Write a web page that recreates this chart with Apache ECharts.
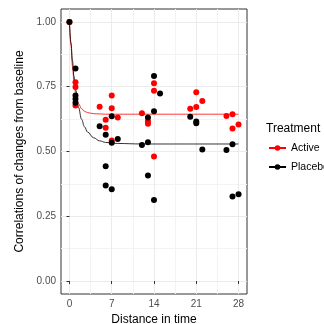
<!DOCTYPE html>
<html>
<head>
<meta charset="utf-8">
<script src="https://cdn.jsdelivr.net/npm/echarts@6/dist/echarts.min.js"></script>
<style>
  html, body { margin: 0; padding: 0; background: #ffffff; }
  #chart { width: 324px; height: 324px; }
</style>
</head>
<body>
<div id="chart"></div>
<script>
// Observed correlations by distance in time, per treatment arm
const activeDist = [0, 1, 1, 1, 5, 6, 6, 7, 7, 7, 8, 12, 13, 13, 14, 14, 14, 20, 21, 21, 22, 26, 27, 27, 28];
const activeCorr = [1.00, 0.767, 0.749, 0.678, 0.673, 0.623, 0.592, 0.716, 0.667, 0.542, 0.631, 0.648, 0.617, 0.607, 0.763, 0.734, 0.481, 0.665, 0.729, 0.672, 0.695, 0.637, 0.644, 0.589, 0.604];

const placeboDist = [0, 1, 1, 1, 1, 5, 6, 6, 6, 7, 7, 7, 8, 12, 13, 13, 13, 14, 14, 14, 15, 20, 21, 21, 22, 26, 27, 27, 28];
const placeboCorr = [1.00, 0.820, 0.716, 0.703, 0.688, 0.597, 0.565, 0.443, 0.369, 0.636, 0.534, 0.354, 0.548, 0.525, 0.631, 0.536, 0.407, 0.791, 0.655, 0.313, 0.724, 0.634, 0.616, 0.609, 0.508, 0.506, 0.528, 0.326, 0.335];

// Fitted decay curves, sampled along distance
const fitDist = [0, 0.25, 0.5, 0.75, 1, 1.5, 2, 2.5, 3, 4, 5, 6, 8, 12, 28];
const activeFit = [1.00, 0.91, 0.83, 0.77, 0.73, 0.685, 0.665, 0.655, 0.65, 0.646, 0.645, 0.644, 0.644, 0.644, 0.644];
const placeboFit = [1.00, 0.92, 0.85, 0.79, 0.74, 0.67, 0.625, 0.595, 0.575, 0.553, 0.541, 0.535, 0.531, 0.529, 0.529];

// Axis ticks
const xMajor = [0, 7, 14, 21, 28];
const xMinor = [3.5, 10.5, 17.5, 24.5];
const yMajor = [0, 0.25, 0.5, 0.75, 1];
const yMinor = [0.125, 0.375, 0.625, 0.875];

const FONT = '"Liberation Sans", Arial, sans-serif';
const pairs = (xs, ys) => xs.map((x, i) => [x, ys[i]]);

const X_MIN = -1.4, X_MAX = 29.4, Y_MIN = -0.05, Y_MAX = 1.05;

const chart = echarts.init(document.getElementById('chart'), null, { renderer: 'canvas' });

const minorAxis = (customValues, extra) => Object.assign({
  type: 'value',
  axisLine: { show: false },
  axisLabel: { show: false },
  axisTick: { show: false, customValues: customValues },
  splitLine: { show: true, lineStyle: { color: '#F3F3F3', width: 1 } }
}, extra);

chart.setOption({
  animation: false,
  backgroundColor: '#ffffff',
  grid: {
    left: 61, top: 9, width: 186, height: 285,
    containLabel: false,
    outerBoundsMode: 'none',
    show: true, borderColor: '#333333', borderWidth: 1, backgroundColor: 'transparent'
  },
  title: {
    text: 'Treatment',
    left: 266, top: 123,
    padding: 0,
    textStyle: { fontFamily: FONT, fontSize: 12, fontWeight: 'normal', color: '#000000' }
  },
  legend: {
    orient: 'vertical',
    left: 268, top: 142,
    padding: 0,
    itemWidth: 17, itemHeight: 7, itemGap: 7,
    data: ['Active', 'Placebo'],
    textStyle: { fontFamily: FONT, fontSize: 10.5, color: '#000000', lineHeight: 12 },
    selectedMode: false
  },
  xAxis: [
    {
      type: 'value', min: X_MIN, max: X_MAX,
      name: 'Distance in time', nameLocation: 'middle', nameGap: 17,
      nameTextStyle: { fontFamily: FONT, fontSize: 12, color: '#000000' },
      axisLine: { show: false },
      axisTick: { show: true, length: 3, inside: false, customValues: xMajor, lineStyle: { color: '#333333', width: 1 } },
      axisLabel: { show: true, customValues: xMajor, margin: 5, fontFamily: FONT, fontSize: 10, color: '#4D4D4D' },
      splitLine: { show: true, lineStyle: { color: '#EBEBEB', width: 1 } },
      z: 1
    },
    minorAxis(xMinor, { min: X_MIN, max: X_MAX, position: 'bottom', z: 0 })
  ],
  yAxis: [
    {
      type: 'value', min: Y_MIN, max: Y_MAX,
      name: 'Correlations of changes from baseline', nameLocation: 'middle', nameGap: 35,
      nameTextStyle: { fontFamily: FONT, fontSize: 12, color: '#000000' },
      axisLine: { show: false },
      axisTick: { show: true, length: 3, inside: false, customValues: yMajor, lineStyle: { color: '#333333', width: 1 } },
      axisLabel: {
        show: true, customValues: yMajor, margin: 5, fontFamily: FONT, fontSize: 10, color: '#4D4D4D',
        formatter: v => v.toFixed(2)
      },
      splitLine: { show: true, lineStyle: { color: '#EBEBEB', width: 1 } },
      z: 1
    },
    minorAxis(yMinor, { min: Y_MIN, max: Y_MAX, position: 'left', z: 0 })
  ],
  series: [
    {
      name: 'Active', type: 'line', xAxisIndex: 0, yAxisIndex: 0,
      data: pairs(fitDist, activeFit),
      smooth: 0.4, smoothMonotone: 'x',
      symbol: 'circle', showSymbol: false,
      itemStyle: { color: '#FF0000' },
      lineStyle: { color: '#FF0000', width: 0.8 },
      silent: true, z: 2
    },
    {
      name: 'Placebo', type: 'line', xAxisIndex: 0, yAxisIndex: 0,
      data: pairs(fitDist, placeboFit),
      smooth: 0.4, smoothMonotone: 'x',
      symbol: 'circle', showSymbol: false,
      itemStyle: { color: '#000000' },
      lineStyle: { color: '#000000', width: 0.8 },
      silent: true, z: 2
    },
    {
      name: 'Active', type: 'scatter', xAxisIndex: 0, yAxisIndex: 0,
      data: pairs(activeDist, activeCorr),
      symbol: 'circle', symbolSize: 6,
      itemStyle: { color: '#FF0000', opacity: 1 },
      z: 3
    },
    {
      name: 'Placebo', type: 'scatter', xAxisIndex: 0, yAxisIndex: 0,
      data: pairs(placeboDist, placeboCorr),
      symbol: 'circle', symbolSize: 6,
      itemStyle: { color: '#000000', opacity: 1 },
      z: 4
    }
  ]
});
</script>
</body>
</html>
